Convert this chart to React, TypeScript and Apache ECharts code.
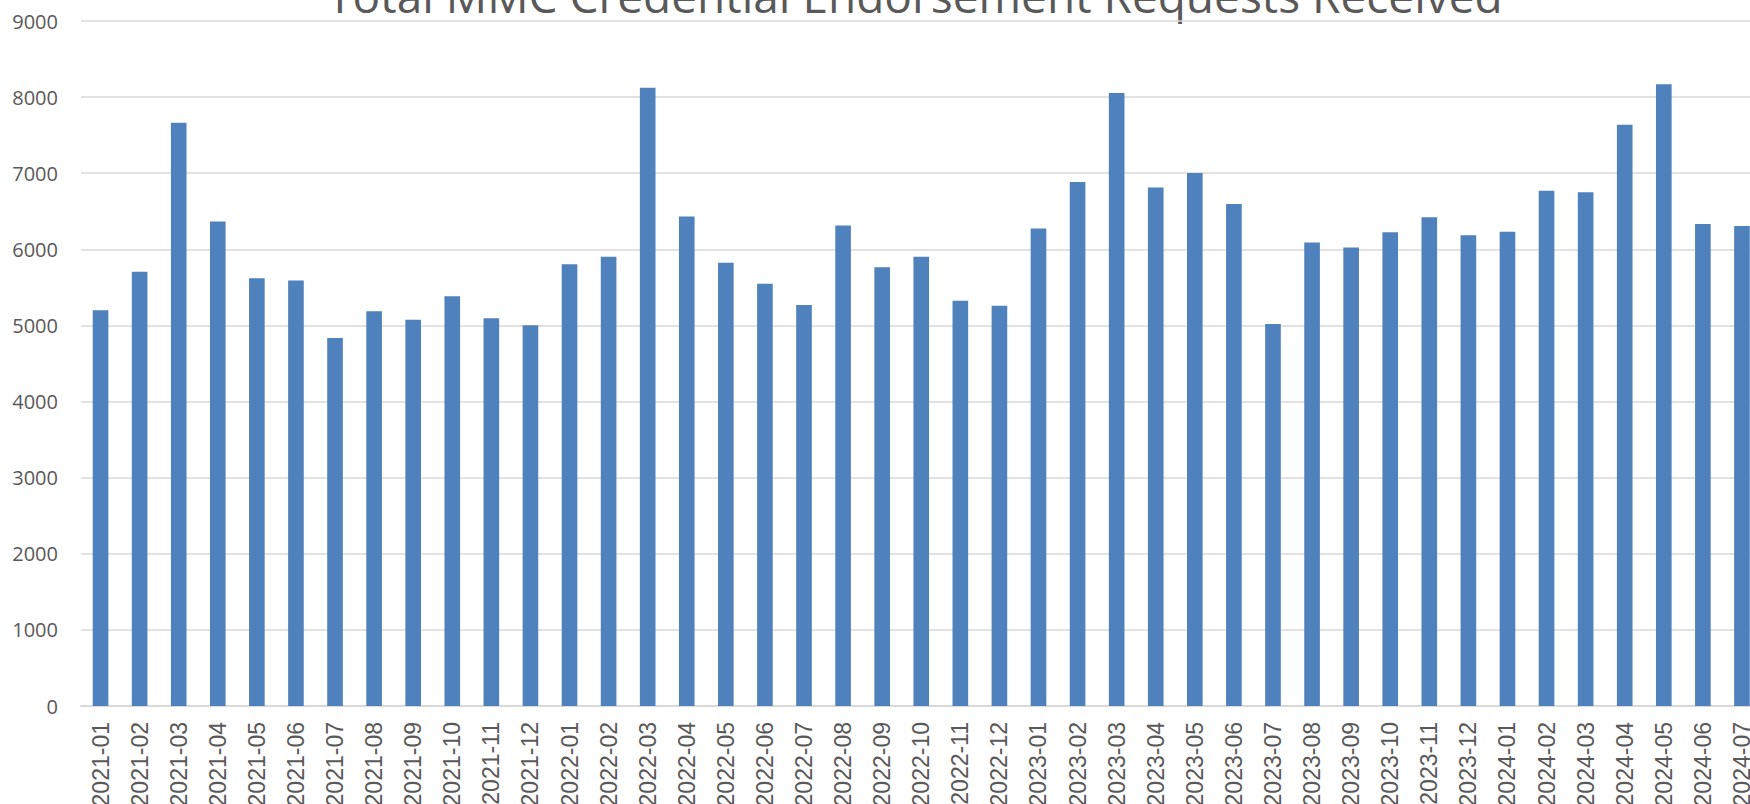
import React, { useEffect, useRef } from "react";
import * as echarts from "echarts";

const categories: string[] = [
  "2021-01", "2021-02", "2021-03", "2021-04", "2021-05", "2021-06", "2021-07", "2021-08", "2021-09", "2021-10", "2021-11", "2021-12",
  "2022-01", "2022-02", "2022-03", "2022-04", "2022-05", "2022-06", "2022-07", "2022-08", "2022-09", "2022-10", "2022-11", "2022-12",
  "2023-01", "2023-02", "2023-03", "2023-04", "2023-05", "2023-06", "2023-07", "2023-08", "2023-09", "2023-10", "2023-11", "2023-12",
  "2024-01", "2024-02", "2024-03", "2024-04", "2024-05", "2024-06", "2024-07",
];

const requests: number[] = [
  5200, 5705, 7663, 6365, 5621, 5591, 4834, 5188, 5074, 5385, 5096, 5004,
  5805, 5902, 8123, 6431, 5823, 5547, 5267, 6313, 5766, 5902, 5324, 5258,
  6273, 6886, 8053, 6812, 7004, 6597, 5018, 6091, 6024, 6225, 6420, 6185,
  6232, 6770, 6750, 7637, 8168, 6333, 6306,
];

const titleText = "Total MMC Credential Endorsement Requests Received";
const yMin = 0;
const yMax = 9000;
const yInterval = 1000;

export default function App() {
  const ref = useRef<HTMLDivElement>(null);
  useEffect(() => {
    if (!ref.current) return;
    const chart = echarts.init(ref.current, undefined, { renderer: "svg" });
    chart.setOption({
      animation: false,
      backgroundColor: "#ffffff",
      graphic: [
        {
          type: "text",
          x: 915,
          y: -28,
          style: {
            text: titleText,
            fontFamily: "Open Sans",
            fontSize: 46,
            lineHeight: 46,
            fill: "#595959",
            align: "center",
            verticalAlign: "top",
          },
        },
      ],
      grid: {
        left: 81,
        right: 28.5,
        top: 21,
        bottom: 98,
        containLabel: false,
        outerBoundsMode: "none",
      },
      xAxis: {
        type: "category",
        data: categories,
        axisTick: { show: false },
        axisLine: { show: true, lineStyle: { color: "#d9d9d9", width: 2 } },
        axisLabel: {
          interval: 0,
          rotate: 90,
          margin: 16,
          fontFamily: "Liberation Sans",
          fontSize: 23,
          color: "#595959",
        },
      },
      yAxis: {
        type: "value",
        min: yMin,
        max: yMax,
        interval: yInterval,
        axisLine: { show: false },
        axisTick: { show: false },
        splitLine: { lineStyle: { color: "#d9d9d9", width: 1.5 } },
        axisLabel: {
          margin: 23,
          fontFamily: "Open Sans",
          fontSize: 20,
          color: "#595959",
          formatter: (v: number) => String(v),
        },
      },
      series: [
        {
          type: "bar",
          data: requests,
          barWidth: "40%",
          itemStyle: { color: "#4f81bd" },
        },
      ],
    });
    return () => chart.dispose();
  }, []);
  return (
    <div
      style={{
        position: "fixed",
        left: 0,
        top: 0,
        width: 1750,
        height: 804,
        overflow: "hidden",
        background: "#fff",
      }}
    >
      <div ref={ref} style={{ width: 1790, height: 804 }} />
    </div>
  );
}
